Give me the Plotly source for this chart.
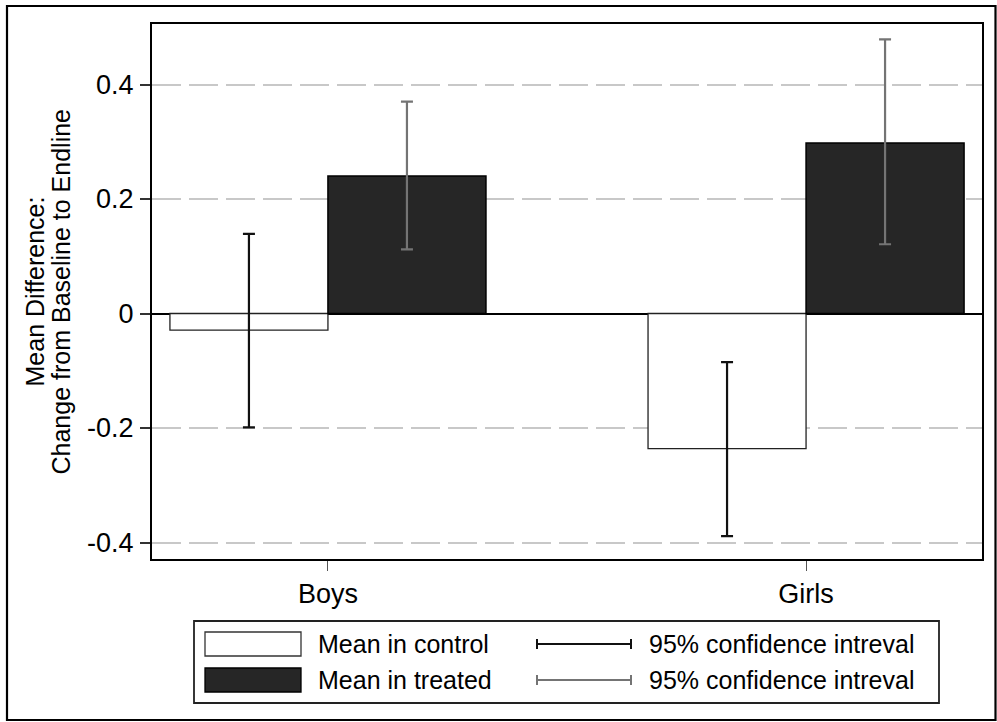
import plotly.graph_objects as go

# ---- data ----
groups = ["Boys", "Girls"]
control_mean = [-0.029, -0.236]
control_lo = [-0.199, -0.389]
control_hi = [0.139, -0.085]
treated_mean = [0.240, 0.298]
treated_lo = [0.112, 0.121]
treated_hi = [0.370, 0.479]
y_ticks = [-0.4, -0.2, 0, 0.2, 0.4]
y_tick_labels = ["-0.4", "-0.2", "0", "0.2", "0.4"]
legend_bar_labels = ["Mean in control", "Mean in treated"]
legend_ci_labels = ["95% confidence intreval", "95% confidence intreval"]
y_title_lines = ["Mean Difference:", "Change from Baseline to Endline"]

FONT = "Liberation Sans, Arial, sans-serif"
FS = 25
FS_TICK = 27
TREAT_FILL = "#262626"
CI_CTRL = "#111111"
CI_TREAT = "#747474"

W, H = 997, 722
ML, MR, MT, MB = 152, 15, 24, 163
PW, PH = W - ML - MR, H - MT - MB


def px(x):
    return (x - ML) / PW


def py(y):
    return (H - MB - y) / PH


fig = go.Figure()
fig.add_trace(go.Bar(
    x=groups, y=control_mean, name=legend_bar_labels[0],
    marker=dict(color="white", line=dict(color="#222222", width=1.3)),
    error_y=dict(type="data", symmetric=False,
                 array=[h - m for h, m in zip(control_hi, control_mean)],
                 arrayminus=[m - l for m, l in zip(control_mean, control_lo)],
                 color=CI_CTRL, thickness=2.2, width=6),
    showlegend=False,
))
fig.add_trace(go.Bar(
    x=groups, y=treated_mean, name=legend_bar_labels[1],
    marker=dict(color=TREAT_FILL, line=dict(color="#000000", width=1.5)),
    error_y=dict(type="data", symmetric=False,
                 array=[h - m for h, m in zip(treated_hi, treated_mean)],
                 arrayminus=[m - l for m, l in zip(treated_mean, treated_lo)],
                 color=CI_TREAT, thickness=2.2, width=6),
    showlegend=False,
))

shapes = []
annotations = []

# outer frame
shapes.append(dict(type="rect", xref="paper", yref="paper",
                   x0=px(7), x1=px(995.5), y0=py(720), y1=py(6),
                   line=dict(color="black", width=2.2), fillcolor="rgba(0,0,0,0)", layer="below"))

# y title (two tight lines)
for i, (line, xc) in enumerate(zip(y_title_lines, [34, 60])):
    annotations.append(dict(text=line, xref="paper", yref="paper", x=px(xc), y=0.5,
                            xanchor="center", yanchor="middle", textangle=-90,
                            showarrow=False, font=dict(family=FONT, size=FS, color="black")))

# legend box
shapes.append(dict(type="rect", xref="paper", yref="paper",
                   x0=px(194), x1=px(939), y0=py(703), y1=py(621),
                   line=dict(color="#222222", width=1.8), fillcolor="white"))
rows = [644, 680]
fills = ["white", TREAT_FILL]
edge = ["#333333", "#000000"]
ci_cols = [CI_CTRL, CI_TREAT]
for i, yc in enumerate(rows):
    shapes.append(dict(type="rect", xref="paper", yref="paper",
                       x0=px(205), x1=px(301), y0=py(yc + 12), y1=py(yc - 12),
                       line=dict(color=edge[i], width=1.3), fillcolor=fills[i]))
    annotations.append(dict(text=legend_bar_labels[i], xref="paper", yref="paper",
                            x=px(316), y=py(yc), xanchor="left", yanchor="middle",
                            showarrow=False, font=dict(family=FONT, size=FS, color="black")))
    shapes.append(dict(type="line", xref="paper", yref="paper",
                       x0=px(536), x1=px(632), y0=py(yc), y1=py(yc),
                       line=dict(color=ci_cols[i], width=2.2)))
    for xe in (537, 631):
        shapes.append(dict(type="line", xref="paper", yref="paper",
                           x0=px(xe), x1=px(xe), y0=py(yc - 5), y1=py(yc + 5),
                           line=dict(color=ci_cols[i], width=2)))
    annotations.append(dict(text=legend_ci_labels[i], xref="paper", yref="paper",
                            x=px(647), y=py(yc), xanchor="left", yanchor="middle",
                            showarrow=False, font=dict(family=FONT, size=FS, color="black")))

fig.update_layout(
    width=W, height=H,
    margin=dict(l=ML, r=MR, t=MT, b=MB, pad=0),
    paper_bgcolor="white", plot_bgcolor="white",
    barmode="group", bargap=0.339, bargroupgap=0,
    font=dict(family=FONT, size=FS, color="black"),
    shapes=shapes, annotations=annotations,
    showlegend=False,
)
fig.update_xaxes(
    type="category", range=[-0.368, 1.368],
    showline=True, linecolor="black", linewidth=2, mirror=True,
    ticks="outside", ticklen=10, tickwidth=1.2, tickcolor="#555555",
    tickfont=dict(family=FONT, size=FS_TICK, color="black"),
    showgrid=False, zeroline=False,
)
fig.update_yaxes(
    range=[-0.4288, 0.5057],
    tickvals=y_ticks, ticktext=y_tick_labels,
    showline=True, linecolor="black", linewidth=2, mirror=True,
    ticks="outside", ticklen=10, tickwidth=1.5, tickcolor="#333333",
    ticklabelstandoff=1,
    tickfont=dict(family=FONT, size=FS_TICK, color="black"),
    showgrid=True, gridcolor="#c8c8c8", gridwidth=1.5, griddash="29px,8px",
    zeroline=True, zerolinecolor="black", zerolinewidth=1.6,
)

fig.write_html("out.html", config={"displayModeBar": False},
               post_script="document.body.style.margin='0';document.body.style.overflow='hidden';")
